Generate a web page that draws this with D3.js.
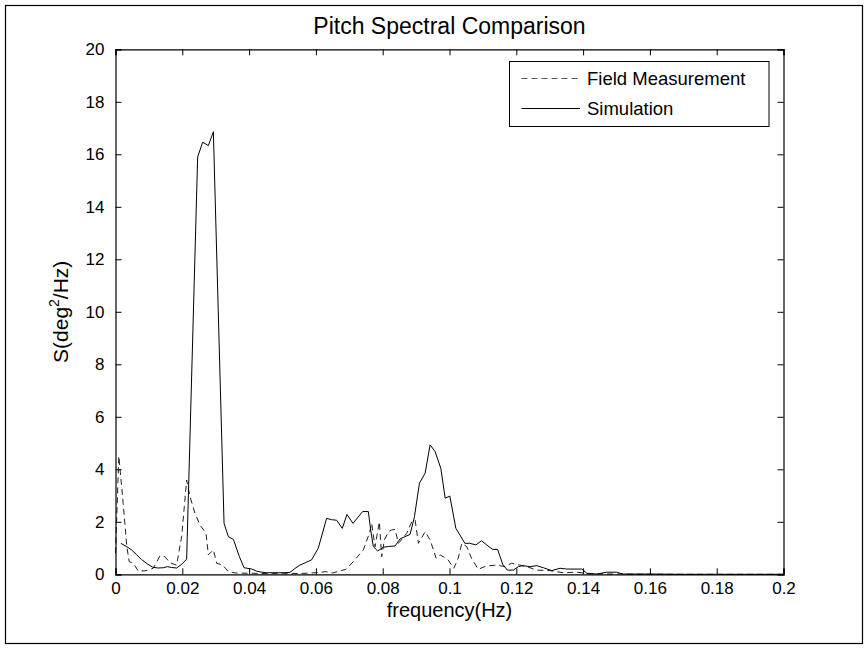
<!DOCTYPE html>
<html>
<head>
<meta charset="utf-8">
<script src="https://cdn.jsdelivr.net/npm/d3@7"></script>
<style>
  html, body { margin: 0; padding: 0; background: #fff; }
  svg { display: block; font-family: "Liberation Sans", Arial, Helvetica, sans-serif; }
</style>
</head>
<body>
<svg id="chart" width="868" height="650"></svg>
<script>
// Pitch spectra: simulated response vs. field measurement
const simFreq = [0.0016, 0.0034, 0.0048, 0.0063, 0.0078, 0.0095, 0.0111, 0.0127, 0.0143, 0.0155,
  0.0168, 0.0183, 0.0198, 0.0213, 0.0246, 0.0261, 0.0278, 0.0293, 0.0325, 0.0338,
  0.0353, 0.0371, 0.0385, 0.0408, 0.0423, 0.0438, 0.0453, 0.0470, 0.0487, 0.0505,
  0.0522, 0.0537, 0.0552, 0.0570, 0.0587, 0.0607, 0.0632, 0.0647, 0.0662, 0.0679,
  0.0693, 0.0711, 0.0740, 0.0757, 0.0764, 0.0772, 0.0785, 0.0802, 0.0817, 0.0837,
  0.0852, 0.0882, 0.0895, 0.0910, 0.0927, 0.0942, 0.0957, 0.0974, 0.0987, 0.1001,
  0.1019, 0.1031, 0.1046, 0.1061, 0.1079, 0.1096, 0.1111, 0.1129, 0.1144, 0.1159,
  0.1173, 0.1191, 0.1206, 0.1219, 0.1241, 0.1261, 0.1281, 0.1306, 0.1331, 0.1351,
  0.1396, 0.1411, 0.1441, 0.1471, 0.1500, 0.1520, 0.1600, 0.1700, 0.1800, 0.1900, 0.2000];
const simValue = [1.18, 1.05, 0.93, 0.75, 0.56, 0.40, 0.27, 0.24, 0.25, 0.29,
  0.26, 0.24, 0.38, 0.58, 15.9, 16.46, 16.33, 16.86, 1.94, 1.43,
  1.33, 0.67, 0.25, 0.20, 0.12, 0.08, 0.06, 0.06, 0.06, 0.06,
  0.07, 0.22, 0.35, 0.45, 0.55, 0.99, 2.13, 2.08, 2.06, 1.75,
  2.28, 1.94, 2.39, 2.39, 1.69, 1.05, 0.89, 1.03, 1.06, 1.08,
  1.35, 1.52, 2.19, 3.47, 3.85, 4.93, 4.67, 4.04, 2.90, 2.98,
  1.75, 1.50, 1.18, 1.18, 1.12, 1.28, 1.12, 0.95, 0.95, 0.39,
  0.16, 0.16, 0.29, 0.33, 0.29, 0.33, 0.25, 0.14, 0.23, 0.20,
  0.20, 0.04, 0.01, 0.08, 0.08, 0.01, 0.01, 0.00, 0.00, 0.00, 0.00];

const fieldFreq = [0.0000, 0.0010, 0.0023, 0.0034, 0.0041, 0.0053, 0.0068, 0.0088, 0.0113, 0.0133,
  0.0148, 0.0163, 0.0183, 0.0198, 0.0213, 0.0223, 0.0238, 0.0253, 0.0271, 0.0278,
  0.0293, 0.0303, 0.0321, 0.0338, 0.0360, 0.0400, 0.0450, 0.0500, 0.0550, 0.0600,
  0.0630, 0.0650, 0.0690, 0.0712, 0.0742, 0.0760, 0.0767, 0.0777, 0.0790, 0.0797,
  0.0805, 0.0817, 0.0827, 0.0837, 0.0847, 0.0872, 0.0887, 0.0897, 0.0907, 0.0927,
  0.0942, 0.0960, 0.0972, 0.0996, 0.1013, 0.1026, 0.1037, 0.1052, 0.1066, 0.1086,
  0.1111, 0.1141, 0.1166, 0.1186, 0.1211, 0.1236, 0.1261, 0.1301, 0.1341, 0.1381,
  0.1420, 0.1500, 0.1600, 0.2000];
const fieldValue = [0.80, 4.50, 2.70, 1.05, 0.48, 0.42, 0.13, 0.13, 0.23, 0.70,
  0.67, 0.44, 0.35, 1.43, 3.59, 2.96, 2.32, 1.88, 1.56, 0.74,
  0.93, 0.42, 0.35, 0.10, 0.05, 0.04, 0.03, 0.04, 0.03, 0.06,
  0.10, 0.05, 0.19, 0.48, 0.93, 1.56, 1.94, 1.05, 2.00, 0.67,
  1.31, 1.62, 1.69, 1.71, 1.18, 1.56, 2.00, 2.07, 1.18, 1.62,
  1.31, 0.61, 0.74, 0.55, 0.23, 0.61, 1.18, 1.05, 0.61, 0.19,
  0.32, 0.35, 0.29, 0.42, 0.35, 0.27, 0.16, 0.14, 0.06, 0.08,
  0.02, 0.01, 0.00, 0.00];

const xTicks = [0, 0.02, 0.04, 0.06, 0.08, 0.1, 0.12, 0.14, 0.16, 0.18, 0.2];
const xTickLabels = ["0", "0.02", "0.04", "0.06", "0.08", "0.1", "0.12", "0.14", "0.16", "0.18", "0.2"];
const yTicks = [0, 2, 4, 6, 8, 10, 12, 14, 16, 18, 20];
const yTickLabels = ["0", "2", "4", "6", "8", "10", "12", "14", "16", "18", "20"];

const seriesNames = ["Field Measurement", "Simulation"];

const svg = d3.select("#chart");
const W = 868, H = 650;
const plotLeft = 115.5, plotRight = 783.5, plotTop = 49.3, plotBottom = 574.3;

const x = d3.scaleLinear().domain([0, 0.2]).range([plotLeft, plotRight]);
const y = d3.scaleLinear().domain([0, 20]).range([plotBottom, plotTop]);

// figure frame
svg.append("rect")
  .attr("x", 5.5).attr("y", 5.5)
  .attr("width", W - 11).attr("height", H - 12)
  .attr("fill", "#fff").attr("stroke", "#000").attr("stroke-width", 1.2);

// series lines
const line = d3.line().x(d => x(d[0])).y(d => y(d[1]));
const field = fieldFreq.map((f, i) => [f, fieldValue[i]]);
const sim = simFreq.map((f, i) => [f, simValue[i]]);

svg.append("path").datum(field)
  .attr("d", line)
  .attr("fill", "none").attr("stroke", "#222").attr("stroke-width", 1)
  .attr("stroke-dasharray", "6,4");

svg.append("path").datum(sim)
  .attr("d", line)
  .attr("fill", "none").attr("stroke", "#000").attr("stroke-width", 1);

// axes (ticks inside, box on all sides)
const tickLen = 6;
const fmtX = (d, i) => xTickLabels[i];
const fmtY = (d, i) => yTickLabels[i];

const gx = svg.append("g").attr("transform", `translate(0,${plotBottom})`)
  .call(d3.axisBottom(x).tickValues(xTicks).tickFormat(fmtX).tickSize(-tickLen).tickPadding(8));
const gxTop = svg.append("g").attr("transform", `translate(0,${plotTop})`)
  .call(d3.axisTop(x).tickValues(xTicks).tickFormat("").tickSize(-tickLen));
const gy = svg.append("g").attr("transform", `translate(${plotLeft},0)`)
  .call(d3.axisLeft(y).tickValues(yTicks).tickFormat(fmtY).tickSize(-tickLen).tickPadding(11));
const gyRight = svg.append("g").attr("transform", `translate(${plotRight},0)`)
  .call(d3.axisRight(y).tickValues(yTicks).tickFormat("").tickSize(-tickLen));

[gx, gxTop, gy, gyRight].forEach(g => {
  g.select(".domain").attr("stroke", "#000").attr("stroke-width", 1.2);
  g.selectAll(".tick line").attr("stroke", "#000").attr("stroke-width", 1);
  g.selectAll(".tick text").attr("fill", "#000")
    .style("font-family", "Liberation Sans, Arial, sans-serif").style("font-size", "17px");
});

// title and axis labels
svg.append("text")
  .attr("x", (plotLeft + plotRight) / 2).attr("y", 34)
  .attr("text-anchor", "middle")
  .style("font-size", "23px")
  .text("Pitch Spectral Comparison");

svg.append("text")
  .attr("x", (plotLeft + plotRight) / 2).attr("y", 617)
  .attr("text-anchor", "middle")
  .style("font-size", "20px")
  .text("frequency(Hz)");

const yl = svg.append("text")
  .attr("transform", `translate(68,${(plotTop + plotBottom) / 2}) rotate(-90)`)
  .attr("text-anchor", "middle")
  .style("font-size", "21px");
yl.append("tspan").text("S(deg");
yl.append("tspan").attr("dy", -9).style("font-size", "14px").text("2");
yl.append("tspan").attr("dy", 9).text("/Hz)");

// legend
const lg = svg.append("g");
lg.append("rect")
  .attr("x", 509.5).attr("y", 61.5).attr("width", 259.5).attr("height", 65)
  .attr("fill", "#fff").attr("stroke", "#000").attr("stroke-width", 1);
const rows = [
  { name: seriesNames[0], dash: "6,4", color: "#555", cy: 78.5 },
  { name: seriesNames[1], dash: null, color: "#000", cy: 108.5 }
];
rows.forEach(r => {
  lg.append("line")
    .attr("x1", 521.5).attr("x2", 580).attr("y1", r.cy).attr("y2", r.cy)
    .attr("stroke", r.color).attr("stroke-width", 1)
    .attr("stroke-dasharray", r.dash);
  lg.append("text")
    .attr("x", 587).attr("y", r.cy).attr("dy", "0.35em")
    .style("font-size", "18.5px")
    .text(r.name);
});
</script>
</body>
</html>
